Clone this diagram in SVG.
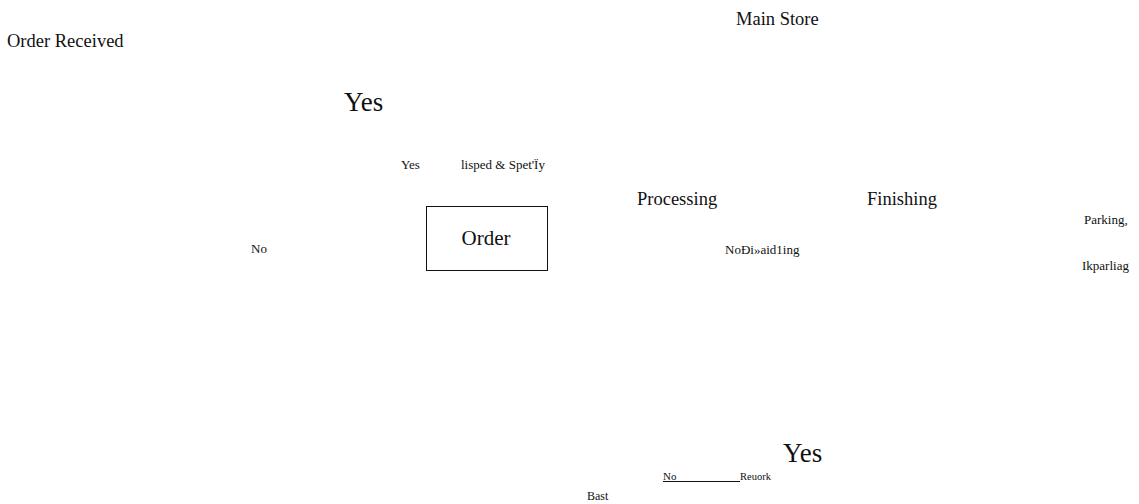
<svg xmlns="http://www.w3.org/2000/svg" width="1139" height="504" viewBox="0 0 1139 504">
<style>
text{font-family:'Liberation Serif','Times New Roman',Times,serif;fill:#111}
.s{font-size:13px}
.m{font-size:18.5px}
.l{font-size:27px}
</style>
<rect width="1139" height="504" fill="#fff"/>
<g id="labels">
<text class="m" x="736" y="25">Main Store</text>
<text class="m" x="7" y="47">Order Received</text>
<text class="l" x="344" y="111">Yes</text>
<text class="s" x="401" y="169">Yes</text>
<text class="s" x="461" y="169">lisped &amp; Spet'Ïy</text>
<text class="m" x="637" y="205">Processing</text>
<text class="m" x="867" y="205">Finishing</text>
<text class="s" x="1084" y="224">Parking,</text>
<text class="s" x="251" y="253">No</text>
<text class="s" x="725" y="254">NoÐi»aid1ing</text>
<text class="s" x="1082" y="270">Ikparliag</text>
<text class="l" x="783" y="462">Yes</text>
<text x="663" y="480" style="font-size:11px">No</text>
<text x="740" y="480" style="font-size:10.5px">Reuork</text>
<text x="587" y="500" style="font-size:12px">Bast</text>
</g>
<g id="order">
<rect x="426.5" y="206.5" width="121" height="64" fill="none" stroke="#111" stroke-width="1"/>
<text x="486" y="245" text-anchor="middle" style="font-size:21px">Order</text>
</g>
<g id="connectors">
<line x1="663" y1="481.5" x2="740" y2="481.5" stroke="#111" stroke-width="1"/>
</g>
</svg>
